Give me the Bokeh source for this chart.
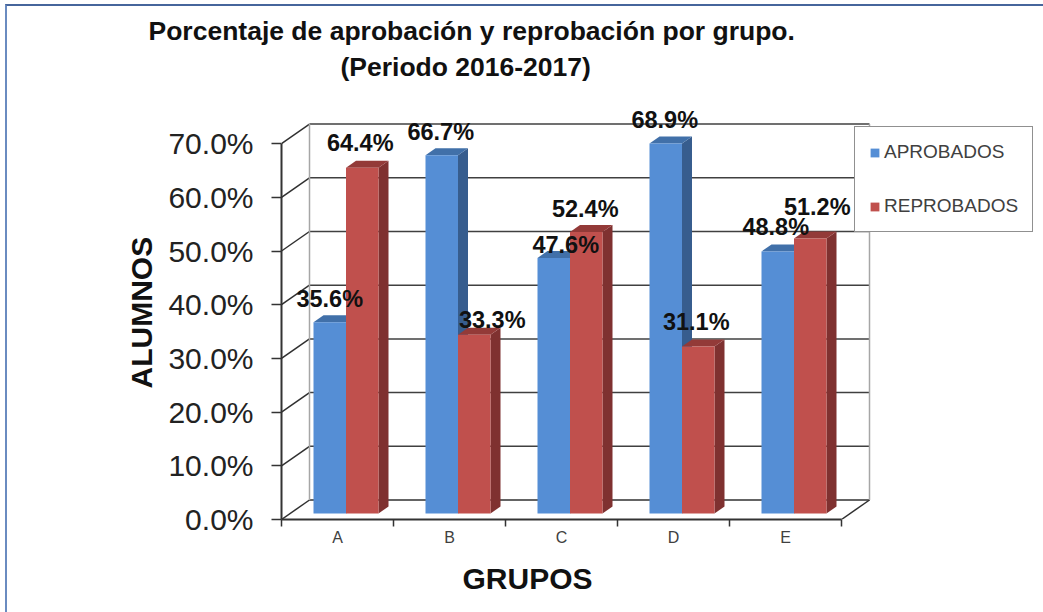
from bokeh.plotting import figure
from bokeh.embed import file_html
from bokeh.resources import INLINE
from bokeh.models import (ColumnDataSource, FixedTicker, LinearAxis, Range1d, Legend,
                          LegendItem, PrintfTickFormatter, Title)
from bokeh.core.properties import value

groups = ["A", "B", "C", "D", "E"]
aprobados = [35.6, 66.7, 47.6, 68.9, 48.8]
reprobados = [64.4, 33.3, 52.4, 31.1, 51.2]
y_ticks = [0, 10, 20, 30, 40, 50, 60, 70]
title_lines = ["Porcentaje de aprobación y reprobación por grupo.", "(Periodo 2016-2017)"]

# layout (canvas px)
W, H = 1043, 612
FL, FR, FT, FB = 281, 1043, 87, 519     # frame edges
PX_X, PX_Y = 112.0, 5.37                # px per category / per percent
DX, DY = 28 / PX_X, 19.5 / PX_Y         # wall depth in data units
BASE = 6 / PX_Y                         # bars stand slightly in front of the axis plane
BAR0, BARW = 32 / PX_X, 32.5 / PX_X
SX, SY = 10 / PX_X, 7 / PX_Y            # bar depth
FONT = "Liberation Sans"

BLUE, BLUE_SIDE, BLUE_TOP = "#558ed5", "#375d8e", "#4170a9"
RED, RED_SIDE, RED_TOP = "#c0504d", "#7f3130", "#933a38"

page_border = (":host::before{content:'';position:absolute;left:5px;top:4px;right:0;bottom:0;"
               "border-left:2px solid #6a8bc0;border-top:2px solid #46659c;pointer-events:none;z-index:10}")

p = figure(width=W, height=H, output_backend="svg", toolbar_location=None,
           x_range=Range1d(0, (FR - FL) / PX_X), y_range=Range1d(0, (FB - FT) / PX_Y),
           min_border_left=FL, min_border_right=W - FR, min_border_top=FT, min_border_bottom=H - FB,
           x_axis_type=None, y_axis_type=None, outline_line_color=None, background_fill_color="white",
           stylesheets=[page_border])
p.grid.visible = False

# walls
n = len(groups)
p.multi_line([[DX, n + DX] for t in y_ticks[1:]], [[t + DY, t + DY] for t in y_ticks[1:]],
             line_color="#404040", line_width=1.5)
p.multi_line([[0, DX] for t in y_ticks], [[t, t + DY] for t in y_ticks], line_color="#303030", line_width=1.5)
p.line([DX, n + DX], [DY, DY], line_color="#303030", line_width=1.5)
p.line([n, n + DX], [0, DY], line_color="#303030", line_width=1.5)
p.line([DX, DX], [DY, y_ticks[-1] + DY], line_color="#a6a6a6", line_width=1.5)
p.line([n + DX, n + DX], [DY, y_ticks[-1] + DY], line_color="#a6a6a6", line_width=1.5)


def bar(vals, off, front, side, top):
    x0 = [i + BAR0 + off * BARW for i in range(n)]
    x1 = [x + BARW for x in x0]
    b = [BASE] * n
    t = [BASE + v for v in vals]
    p.patches([[a, a + SX, a + SX, a] for a in x1],
              [[bb, bb + SY, tt + SY, tt] for bb, tt in zip(b, t)], fill_color=side, line_color=None)
    p.patches([[l, l + SX, r + SX, r] for l, r in zip(x0, x1)],
              [[tt, tt + SY, tt + SY, tt] for tt in t], fill_color=top, line_color=None)
    return p.quad(left=x0, right=x1, bottom=b, top=t, fill_color=front, line_color=None)


r_a = bar(aprobados, 0, BLUE, BLUE_SIDE, BLUE_TOP)
r_r = bar(reprobados, 1, RED, RED_SIDE, RED_TOP)

# data labels, hand-placed as in the reference
label_dx_a = [0, -1, 12, -1, -2]
label_dx_r = [-2, 18, -1, -2, 7]
label_dy_a = [-23, -23, -13, -24, -24]
label_dy_r = [-25, -15, -23, -24, -32]
lx, ly, lt, ldx, ldy = [], [], [], [], []
for i in range(n):
    for off, v, d, e in ((0, aprobados[i], label_dx_a[i], label_dy_a[i]),
                         (1, reprobados[i], label_dx_r[i], label_dy_r[i])):
        lx.append(i + BAR0 + (off + 0.5) * BARW)
        ly.append(BASE + v)
        lt.append(f"{v:.1f}%")
        ldx.append(d)
        ldy.append(e)
p.text(x="x", y="y", text="t", x_offset="dx", y_offset="dy",
       source=ColumnDataSource(dict(x=lx, y=ly, t=lt, dx=ldx, dy=ldy)),
       text_font=value(FONT), text_font_style="bold", text_font_size="23.5px", text_color="#111111",
       text_align="center", text_baseline="middle")

# axes
ya = LinearAxis(ticker=FixedTicker(ticks=y_ticks), formatter=PrintfTickFormatter(format="%.1f%%"),
                bounds=(0, y_ticks[-1]))
ya.major_label_text_font = FONT
ya.major_label_text_font_size = "30px"
ya.major_label_text_color = "#222222"
ya.major_tick_out, ya.major_tick_in = 10, 0
ya.minor_tick_line_color = None
ya.major_label_standoff = 18
ya.axis_line_color = ya.major_tick_line_color = "#333333"
ya.axis_line_width = 2
ya.major_tick_line_width = 1.5
p.add_layout(ya, "left")

xa = LinearAxis(ticker=FixedTicker(ticks=list(range(n + 1))), bounds=(0, n),
                major_label_overrides={i: "" for i in range(n + 1)})
xa.major_tick_out, xa.major_tick_in = 7, 0
xa.minor_tick_line_color = None
xa.axis_line_color = xa.major_tick_line_color = "#333333"
xa.axis_line_width = 2
xa.major_tick_line_width = 1.5
xa.major_label_text_font_size = "1px"
xa.major_label_standoff = 0
p.add_layout(xa, "below")

xb = LinearAxis(ticker=FixedTicker(ticks=[i + 0.5 for i in range(n)]),
                major_label_overrides={i + 0.5: g for i, g in enumerate(groups)})
xb.axis_line_color = None
xb.major_tick_line_color = None
xb.minor_tick_line_color = None
xb.major_tick_out = 0
xb.major_label_text_font = FONT
xb.major_label_text_font_size = "16px"
xb.major_label_text_color = "#404040"
xb.major_label_standoff = 2
p.add_layout(xb, "below")


def heading(text, where, offset, size, standoff, valign="bottom"):
    p.add_layout(Title(text=text, align="left", offset=offset, standoff=standoff, text_font=FONT,
                       vertical_align=valign, text_font_style="bold", text_font_size=size,
                       text_color="#111111"), where)


heading("ALUMNOS", "left", FB - 388, "30px", 15)
heading("GRUPOS", "below", 462 - FL, "30px", 23)
heading(title_lines[1], "above", 340 - FL, "26.5px", 8, "top")
heading(title_lines[0], "above", 148 - FL, "26.5px", 3)

legend = Legend(items=[LegendItem(label="APROBADOS", renderers=[r_a]), LegendItem(label="REPROBADOS", renderers=[r_r])],
                location=(854 - FL, FB - 232), orientation="vertical", margin=0, padding=14,
                spacing=32, label_height=20, glyph_width=11, glyph_height=11, label_standoff=4,
                label_text_font=FONT, label_text_font_size="19px", label_text_color="#404040",
                border_line_color="#222222", border_line_width=1.5, background_fill_color="white",
                background_fill_alpha=1)
p.add_layout(legend)

open("out.html", "w").write(file_html(p, INLINE))
